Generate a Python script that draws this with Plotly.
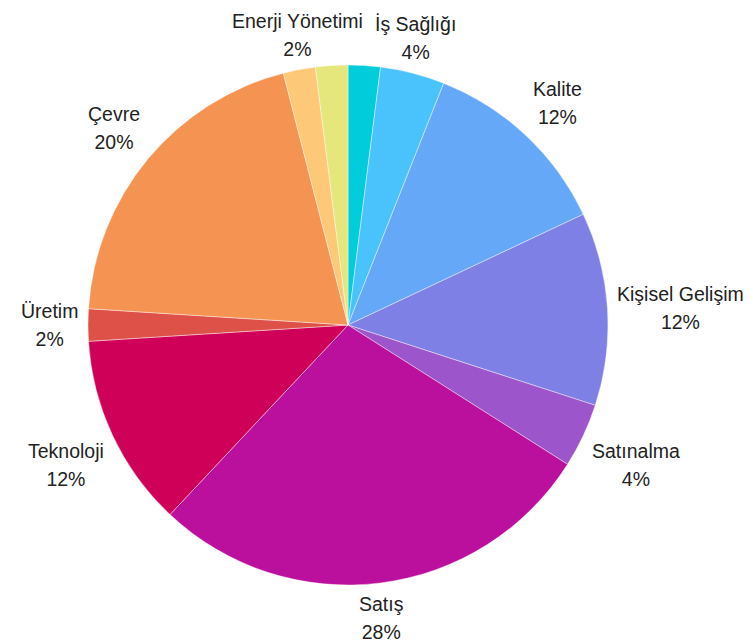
import math
import plotly.graph_objects as go

# Slices clockwise from 12 o'clock; two small slices carry no visible label
categories = ["(a)", "İş Sağlığı", "Kalite", "Kişisel Gelişim", "Satınalma", "Satış",
              "Teknoloji", "Üretim", "Çevre", "Enerji Yönetimi", "(b)"]
values = [1, 2, 6, 6, 2, 14, 6, 1, 10, 1, 1]
show_label = [False, True, True, True, True, True, True, True, True, True, False]
colors = ["#00CCDB", "#4AC3FC", "#66A8F8", "#7F80E6", "#9D55CB", "#BB0F9E",
          "#CF0057", "#DE5149", "#F59352", "#FEC879", "#E5E67C"]

# page body has an 8px margin; figure coordinates are offset by it
W, H = 745, 634
off = 8
cx, cy, r = 348 - off, 325 - off, 260
label_gap = 10
FONT = "Liberation Sans, Arial, sans-serif"

dom_x = [(cx - r) / W, (cx + r) / W]
dom_y = [(H - cy - r) / H, (H - cy + r) / H]

fig = go.Figure(go.Pie(
    labels=categories,
    values=values,
    sort=False,
    direction="clockwise",
    rotation=0,
    marker=dict(colors=colors, line=dict(color="rgba(255,255,255,0.6)", width=0.7)),
    textinfo="none",
    showlegend=False,
    hoverinfo="label+percent",
    domain=dict(x=dom_x, y=dom_y),
))

# outside labels, anchored along each slice's mid-angle
total = sum(values)
cum = 0
annotations = []
span = "<span style='font-size:19.5px'>{}</span>"
for name, v, show in zip(categories, values, show_label):
    mid = (cum + v / 2) / total * 2 * math.pi
    cum += v
    if not show:
        continue
    s, c = math.sin(mid), math.cos(mid)
    px = cx + (r + label_gap) * s
    py = cy - (r + label_gap) * c
    xanchor = "left" if s > 0.3 else ("right" if s < -0.3 else "center")
    yanchor = "bottom" if c > 0.3 else ("top" if c < -0.3 else "middle")
    pct = round(v / total * 100)
    annotations.append(dict(
        x=px / W, y=1 - py / H, xref="paper", yref="paper",
        text=span.format(name) + "<br>" + span.format(f"{pct}%"), showarrow=False,
        xanchor=xanchor, yanchor=yanchor, align="center",
        borderpad=0, borderwidth=0,
        font=dict(family=FONT, size=21.5, color="#222222"),
    ))

fig.update_layout(
    width=W, height=H,
    margin=dict(l=0, r=0, t=0, b=0),
    paper_bgcolor="white",
    plot_bgcolor="white",
    showlegend=False,
    annotations=annotations,
)

fig.write_html("out.html")
